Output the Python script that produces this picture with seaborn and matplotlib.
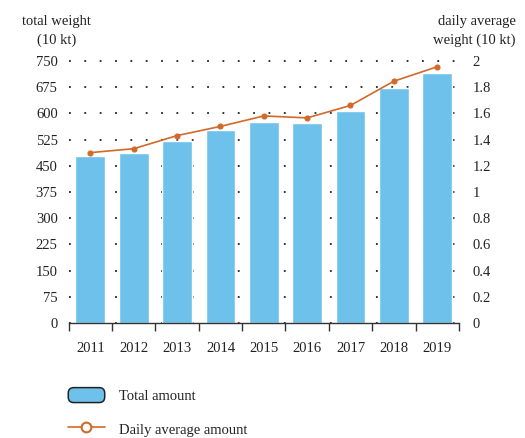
import numpy as np
import pandas as pd
import matplotlib
matplotlib.use('Agg')
import matplotlib.pyplot as plt
import seaborn as sns
from matplotlib.patches import Patch, FancyBboxPatch
from matplotlib.lines import Line2D
from matplotlib.legend_handler import HandlerPatch
from matplotlib.ticker import FixedLocator, NullLocator

# data
years = ['2011', '2012', '2013', '2014', '2015', '2016', '2017', '2018', '2019']
total_weight = [477, 487, 521, 552, 575, 573, 607, 672, 716]
daily_avg = [1.30, 1.33, 1.43, 1.50, 1.58, 1.565, 1.66, 1.845, 1.955]
left_ticks = [0, 75, 150, 225, 300, 375, 450, 525, 600, 675, 750]
right_ticks = [0, 0.2, 0.4, 0.6, 0.8, 1, 1.2, 1.4, 1.6, 1.8, 2]
right_labels = ['0', '0.2', '0.4', '0.6', '0.8', '1', '1.2', '1.4', '1.6', '1.8', '2']

bar_color = '#6EC1EA'
line_color = '#D2692A'
text_color = '#222222'

sns.set_style('white')
plt.rcParams['font.family'] = ['Liberation Serif', 'DejaVu Serif']
plt.rcParams['font.size'] = 10.5

df = pd.DataFrame({'year': years, 'total': total_weight, 'daily': daily_avg})

fig = plt.figure(figsize=(5.25, 4.38), dpi=100)
ax = fig.add_axes([0.131, 0.2626, 0.743, 0.5984])

sns.barplot(data=df, x='year', y='total', color=bar_color, saturation=1,
            width=0.69, ax=ax, zorder=2)
ax.set_ylim(0, 750)
ax.set_xlim(-0.5, len(years) - 0.5)
ax.set_yticks(left_ticks)
ax.set_yticklabels([str(t) for t in left_ticks])
ax.grid(axis='y', color='#222222', linestyle=(0, (1, 7.5)), linewidth=1.3, zorder=0)
ax.set_axisbelow(True)
for gl in ax.get_ygridlines():
    gl.set_clip_on(False)
ax.set_xlabel('')
ax.set_ylabel('')
for s in ['left', 'right', 'top']:
    ax.spines[s].set_visible(False)
ax.spines['bottom'].set_color('#333333')
ax.spines['bottom'].set_linewidth(1.0)
ax.xaxis.set_minor_locator(FixedLocator(np.arange(-0.5, len(years), 1)))
ax.yaxis.set_minor_locator(NullLocator())
ax.tick_params(axis='x', which='major', bottom=False, length=0, pad=14, labelcolor=text_color)
ax.tick_params(axis='x', which='minor', bottom=True, length=6, width=1.0,
               color='#333333', direction='out')
ax.tick_params(axis='y', which='both', left=False, right=False, length=0, pad=8,
               labelcolor=text_color)

ax2 = ax.twinx()
sns.pointplot(data=df, x='year', y='daily', color=line_color, markers='o',
              markersize=3.5, linewidth=1.2, ax=ax2)
ax2.set_ylim(0, 2)
ax2.set_xlim(-0.5, len(years) - 0.5)
ax2.set_yticks(right_ticks)
ax2.set_yticklabels(right_labels)
ax2.yaxis.set_minor_locator(NullLocator())
ax2.set_ylabel('')
ax2.set_xlabel('')
ax2.grid(False)
for s in ['left', 'right', 'top', 'bottom']:
    ax2.spines[s].set_visible(False)
ax2.tick_params(axis='y', which='both', left=False, right=False, labelleft=False,
                labelright=True, length=0, pad=10, labelcolor=text_color)
ax2.tick_params(axis='x', which='both', bottom=False, top=False, labelbottom=False)

fig.text(0.108, 0.965, 'total weight\n(10 kt)', ha='center', va='top',
         fontsize=10.5, color=text_color, linespacing=1.5)
fig.text(0.982, 0.965, 'daily average\nweight (10 kt)', ha='right', va='top',
         fontsize=10.5, color=text_color, linespacing=1.5, multialignment='right')


class RoundBoxHandler(HandlerPatch):
    def create_artists(self, legend, orig_handle, xdescent, ydescent,
                       width, height, fontsize, trans):
        p = FancyBboxPatch((-xdescent + 2, -ydescent + 2), width - 4, height - 4,
                           boxstyle='round,pad=2,rounding_size=4',
                           facecolor=bar_color, edgecolor='#222222', linewidth=1.1,
                           transform=trans)
        return [p]


handles = [
    Patch(facecolor=bar_color, edgecolor='#222222', label='Total amount'),
    Line2D([0], [0], color=line_color, linewidth=1.2, marker='o', markersize=7,
           markerfacecolor='white', markeredgecolor=line_color, markeredgewidth=1.5,
           markevery=[0], label='Daily average amount'),
]
leg = fig.legend(handles=handles, loc='upper left', bbox_to_anchor=(0.105, 0.145),
                 frameon=False, handlelength=2.5, handleheight=1.2,
                 labelspacing=1.25, handletextpad=0.95, fontsize=10.5,
                 handler_map={Patch: RoundBoxHandler()})
for t in leg.get_texts():
    t.set_color(text_color)

fig.savefig('out.png', dpi=100)
